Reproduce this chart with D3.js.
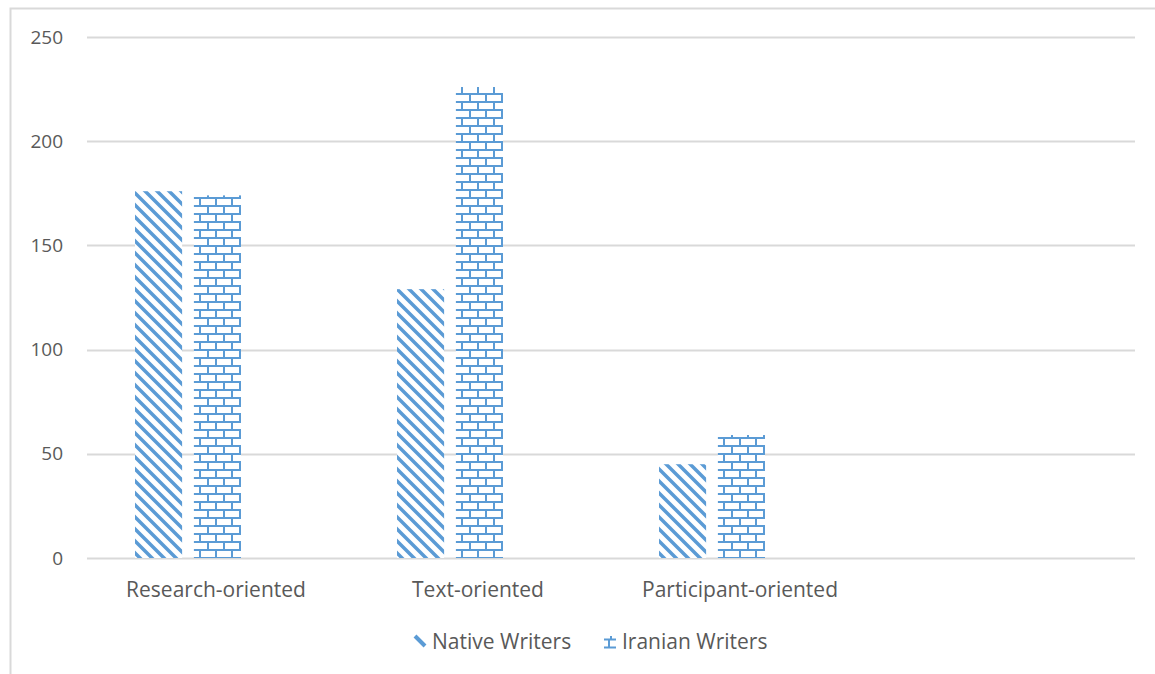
<!DOCTYPE html>
<html>
<head>
<meta charset="utf-8">
<script src="https://cdn.jsdelivr.net/npm/d3@7"></script>
<style>
  body { margin: 0; background: #fff; }
  text { font-family: "Open Sans", "Noto Sans", sans-serif; fill: #595959; }
</style>
</head>
<body>
<svg id="chart" width="1155" height="674"></svg>
<script>
(function() {

    var categories = ['Research-oriented', 'Text-oriented', 'Participant-oriented', ''];
    var series = ['Native Writers', 'Iranian Writers'];
    var nativeValues = [176, 129, 45, null];
    var iranianValues = [174, 226, 59, null];
    var yTicks = [0, 50, 100, 150, 200, 250];

    var svg = d3.select('#chart');
    var margin = { top: 37, right: 20, bottom: 116, left: 87 };
    var width = 1135 - margin.left;
    var height = 558 - margin.top;

    // outer chart border (only top and left visible in the crop)
    svg.append('path')
        .attr('d', 'M10.5,674 V8.5 H1155')
        .attr('fill', 'none')
        .attr('stroke', '#d9d9d9')
        .attr('stroke-width', 2);

    var defs = svg.append('defs');

    var diag = defs.append('pattern')
        .attr('id', 'diag')
        .attr('patternUnits', 'userSpaceOnUse')
        .attr('width', 12)
        .attr('height', 12);
    diag.append('rect').attr('width', 12).attr('height', 12).attr('fill', '#fff');
    diag.append('path')
        .attr('d', 'M-3,-3 L15,15 M-3,9 L3,15 M9,-3 L15,3')
        .attr('stroke', '#5b9bd5')
        .attr('stroke-width', 3.5);

    var brick = defs.append('pattern')
        .attr('id', 'brick')
        .attr('patternUnits', 'userSpaceOnUse')
        .attr('width', 16)
        .attr('height', 16);
    brick.append('rect').attr('width', 16).attr('height', 16).attr('fill', '#fff');
    brick.append('path')
        .attr('d', 'M0,1 H16 M0,9 H16 M1,1 V9 M9,9 V17 M9,-7 V1')
        .attr('stroke', '#5b9bd5')
        .attr('stroke-width', 2);

    var g = svg.append('g')
        .attr('transform', 'translate(' + margin.left + ',' + margin.top + ')');

    var y = d3.scaleLinear().domain([0, 250]).range([height, 0]);

    var x0 = d3.scaleBand()
        .domain(d3.range(categories.length))
        .range([0, width])
        .paddingInner(0)
        .paddingOuter(0);

    var x1 = d3.scaleBand()
        .domain(series)
        .range([48, 48 + 106])
        .paddingInner(0.2);

    // gridlines
    g.append('g')
        .selectAll('line')
        .data(yTicks)
        .enter().append('line')
        .attr('x1', 0)
        .attr('x2', width)
        .attr('y1', function(d) { return Math.round(y(d)) + 0.5; })
        .attr('y2', function(d) { return Math.round(y(d)) + 0.5; })
        .attr('stroke', '#d9d9d9')
        .attr('stroke-width', 2);

    // y labels
    g.append('g')
        .selectAll('text')
        .data(yTicks)
        .enter().append('text')
        .attr('x', -24)
        .attr('y', function(d) { return y(d); })
        .attr('dy', '0.35em')
        .attr('text-anchor', 'end')
        .style('font-size', '19px')
        .text(function(d) { return d; });

    var rows = categories.map(function(c, i) {
        return { i: i, values: [nativeValues[i], iranianValues[i]] };
    });

    var groups = g.selectAll('g.cat')
        .data(rows)
        .enter().append('g')
        .attr('class', 'cat')
        .attr('transform', function(d) { return 'translate(' + x0(d.i) + ',0)'; });

    groups.selectAll('rect')
        .data(function(d) {
            return d.values.map(function(v, k) { return { s: series[k], v: v, k: k }; })
                .filter(function(e) { return e.v != null; });
        })
        .enter().append('rect')
        .attr('x', function(d) { return x1(d.s); })
        .attr('width', x1.bandwidth())
        .attr('y', function(d) { return y(d.v); })
        .attr('height', function(d) { return height - y(d.v); })
        .attr('fill', function(d) { return d.k === 0 ? 'url(#diag)' : 'url(#brick)'; });

    // category labels
    g.append('g')
        .selectAll('text')
        .data(categories)
        .enter().append('text')
        .attr('x', function(d, i) { return x0(i) + x0.bandwidth() / 2 - 2; })
        .attr('y', height + 32)
        .attr('dy', '0.35em')
        .attr('text-anchor', 'middle')
        .style('font-size', '21px')
        .text(function(d) { return d; });

    // legend
    var legend = svg.append('g').attr('transform', 'translate(0,642)');
    var items = [
        { name: series[0], x: 414 },
        { name: series[1], x: 604 }
    ];
    var li = legend.selectAll('g')
        .data(items)
        .enter().append('g')
        .attr('transform', function(d) { return 'translate(' + d.x + ',0)'; });

    li.filter(function(d, i) { return i === 0; })
        .append('path')
        .attr('d', 'M1,-6 L11,4')
        .attr('stroke', '#5b9bd5')
        .attr('stroke-width', 4);

    li.filter(function(d, i) { return i === 1; })
        .append('path')
        .attr('d', 'M0,-2.5 H12 M0,5.5 H12 M7,-6 V-2.5 M5,-2.5 V5.5')
        .attr('stroke', '#5b9bd5')
        .attr('stroke-width', 2);

    li.append('text')
        .attr('x', 18)
        .attr('dy', '0.35em')
        .style('font-size', '21px')
        .text(function(d) { return d.name; });
})();
</script>
</body>
</html>
